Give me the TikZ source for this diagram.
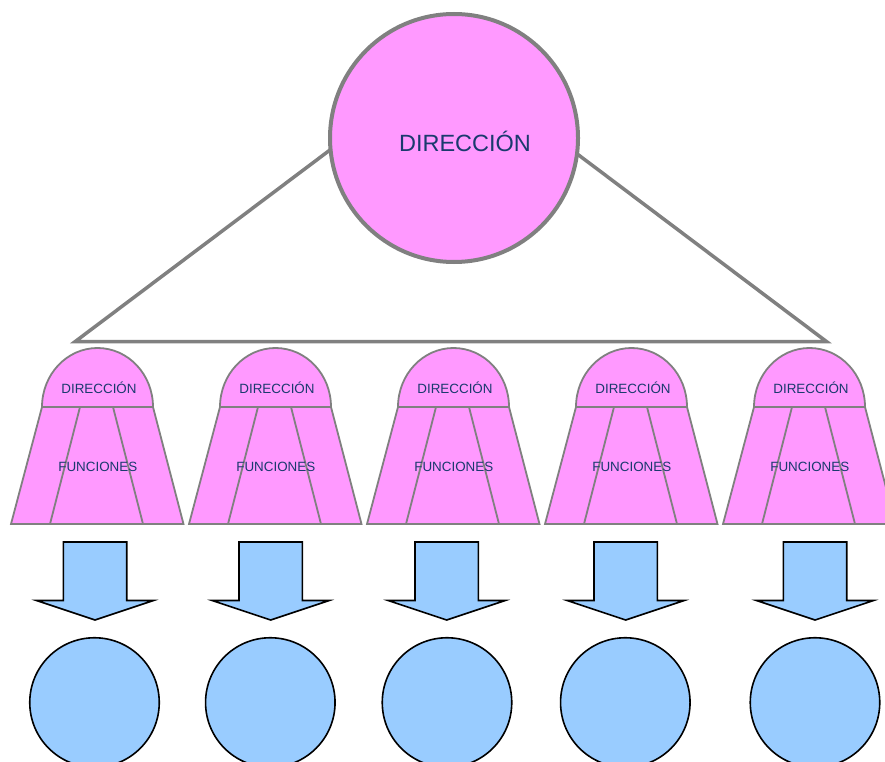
\documentclass[tikz,border=0pt]{standalone}
\usepackage{fontspec}
\setmainfont{Liberation Sans}
\definecolor{pinkf}{HTML}{FF99FF}
\definecolor{bluef}{HTML}{99CCFF}
\definecolor{grayl}{HTML}{808080}
\definecolor{txtc}{HTML}{1A3A6E}
\tikzset{
  tri/.style={draw=grayl, line width=3.5pt, line join=miter},
  bigcirc/.style={circle, draw=grayl, line width=4pt, fill=pinkf, minimum size=248pt, inner sep=0pt},
  bigtxt/.style={text=txtc, font=\fontsize{23.5}{28}\selectfont, inner sep=0pt},
  unitline/.style={draw=grayl, line width=1.8pt, line join=miter},
  smalltxt/.style={text=txtc, font=\fontsize{13.4}{16}\selectfont, inner sep=0pt},
  blockarrow/.style={draw=black, line width=1.6pt, fill=bluef, line join=miter},
  lowcirc/.style={circle, draw=black, line width=1.6pt, fill=bluef, minimum size=129.5pt, inner sep=0pt}
}
\begin{document}
\begin{tikzpicture}[x=1pt,y=-1pt]
\useasboundingbox (0,0) rectangle (885,762);
\clip (0,0) rectangle (885,762);
% triangle behind the top circle
\coordinate (apex) at (451,59);
\coordinate (tl) at (75,341.7);
\coordinate (tr) at (826.7,341.7);
\draw[tri] (apex) -- (tl) -- (tr) -- cycle;
\node[bigcirc] (dir) at (454,138) {};
\node[bigtxt, anchor=base] (dirtxt) at (465,152) {DIRECCIÓN};
% units
\foreach \c [count=\i] in {97.5,275.5,453.5,631.5,809.5}{
  \draw[unitline, fill=pinkf] (\c-55.5,407) -- (\c+55.5,407) -- (\c+86,524) -- (\c-86.5,524) -- cycle;
  \draw[unitline] (\c-17.5,407) -- (\c-47.5,524);
  \draw[unitline] (\c+15.5,407) -- (\c+45.5,524);
  \draw[unitline, fill=pinkf] (\c-55.5,407) arc[start angle=180, end angle=360, x radius=55.5, y radius=59] -- cycle;
  \node[smalltxt, anchor=base] (d\i) at (\c+1.5,393.3) {DIRECCIÓN};
  \node[smalltxt, anchor=base] (f\i) at (\c+0.3,471) {FUNCIONES};
}
% block arrows
\foreach \a in {95,270.7,446.7,625.7,815}{
  \draw[blockarrow] (\a-31.7,542) -- (\a+31.7,542) -- (\a+31.7,600.5) -- (\a+58.5,600.5)
     -- (\a,620) -- (\a-58.5,600.5) -- (\a-31.7,600.5) -- cycle;
}
% lower circles
\foreach \x [count=\i] in {94.5,270.3,447,625.3,815}{
  \node[lowcirc] (c\i) at (\x,702.5) {};
}
\end{tikzpicture}
\end{document}
